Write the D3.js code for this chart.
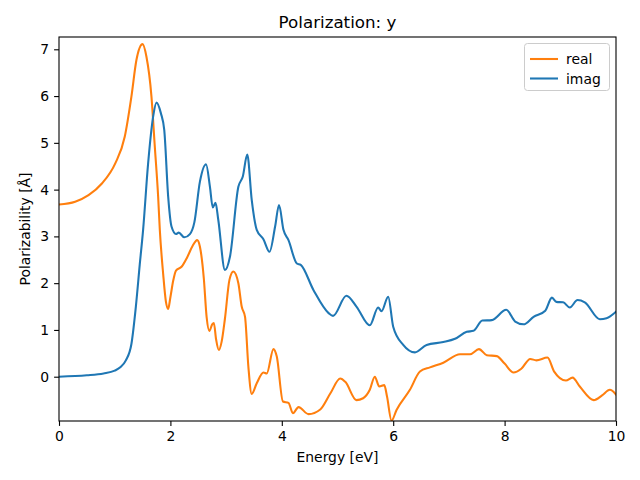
<!DOCTYPE html>
<html><head><meta charset="utf-8">
<script src="https://cdn.jsdelivr.net/npm/d3@7"></script>
<style>body{margin:0;background:#fff}svg{display:block}text{font-family:"DejaVu Sans",sans-serif;fill:#000}</style>
</head><body><svg id="c" width="640" height="480"></svg>
<script>
const title = "Polarization: y";
const xLabel = "Energy [eV]";
const yLabel = "Polarizability [Å]";
const seriesNames = ["real", "imag"];
const xTicks = [0, 2, 4, 6, 8, 10];
const yTicks = [0, 1, 2, 3, 4, 5, 6, 7];

const realE = [0,0.29,0.53,0.77,1.01,1.18,1.3,1.39,1.5,1.57,1.66,1.72,1.78,1.81,1.87,1.92,1.96,2.0,2.05,2.1,2.2,2.3,2.4,2.48,2.53,2.6,2.65,2.7,2.75,2.78,2.82,2.87,2.92,2.98,3.06,3.13,3.22,3.28,3.34,3.4,3.46,3.55,3.67,3.73,3.85,3.91,4.02,4.12,4.2,4.3,4.48,4.69,4.87,5.05,5.14,5.34,5.46,5.58,5.67,5.75,5.84,5.89,5.97,6.06,6.3,6.48,6.66,6.9,7.2,7.38,7.54,7.68,7.86,8.0,8.16,8.3,8.46,8.57,8.77,8.89,9.1,9.22,9.35,9.6,9.75,9.89,10];
const realV = [3.68,3.74,3.88,4.13,4.56,5.13,5.99,6.77,7.11,6.84,5.99,4.92,3.85,3.14,2.2,1.6,1.45,1.7,2.05,2.27,2.35,2.55,2.8,2.92,2.78,2.1,1.28,0.98,1.12,1.15,0.8,0.57,0.75,1.25,2.07,2.25,2.0,1.5,1.28,0.21,-0.37,-0.14,0.09,0.07,0.59,0.43,-0.53,-0.56,-0.78,-0.65,-0.8,-0.7,-0.36,-0.04,-0.11,-0.5,-0.46,-0.28,0.0,-0.21,-0.18,-0.43,-0.94,-0.71,-0.28,0.11,0.2,0.3,0.48,0.48,0.59,0.46,0.44,0.28,0.09,0.17,0.38,0.35,0.41,0.11,-0.08,-0.02,-0.21,-0.5,-0.4,-0.28,-0.38];

const imagE = [0,0.5,0.8,1.0,1.1,1.2,1.3,1.38,1.45,1.51,1.6,1.69,1.75,1.83,1.89,1.96,2.02,2.1,2.15,2.25,2.35,2.43,2.53,2.64,2.71,2.76,2.81,2.86,2.98,3.07,3.22,3.3,3.38,3.46,3.55,3.67,3.78,3.88,3.95,4.03,4.12,4.27,4.34,4.57,4.84,4.92,5.16,5.34,5.58,5.73,5.79,5.91,6.0,6.18,6.39,6.6,6.9,7.11,7.32,7.44,7.6,7.77,8.03,8.19,8.34,8.52,8.73,8.85,8.93,9.05,9.17,9.31,9.44,9.71,9.83,10];
const imagV = [0,0.03,0.07,0.13,0.2,0.35,0.7,1.5,2.4,3.14,4.56,5.56,5.86,5.63,5.27,3.85,3.21,3.05,3.08,2.98,3.05,3.3,4.17,4.54,4.06,3.62,3.72,3.35,2.28,2.57,4.06,4.28,4.75,3.78,3.14,2.94,2.67,3.21,3.67,3.14,2.92,2.42,2.39,1.85,1.36,1.3,1.73,1.5,1.1,1.48,1.4,1.71,1.07,0.68,0.52,0.68,0.74,0.81,0.96,0.98,1.2,1.21,1.43,1.18,1.12,1.28,1.41,1.69,1.6,1.59,1.48,1.64,1.59,1.23,1.25,1.39];

const colors = ["#ff7f0e", "#1f77b4"];
const L = 59, R = 616, T = 37, B = 421;
const svg = d3.select("#c");
const x = d3.scaleLinear().domain([0, 10]).range([L, R]);
const y = d3.scaleLinear().domain([-0.947, 7.263]).range([B, T]);

const line = d3.line().x(d => x(d[0])).y(d => y(d[1])).curve(d3.curveMonotoneX);
const clip = svg.append("clipPath").attr("id", "clp").append("rect").attr("x", L).attr("y", T).attr("width", R - L).attr("height", B - T);
const g = svg.append("g").attr("clip-path", "url(#clp)");
const data = [d3.zip(realE, realV), d3.zip(imagE, imagV)];
data.forEach((d, i) => {
  g.append("path").datum(d).attr("d", line).attr("fill", "none").attr("stroke", colors[i]).attr("stroke-width", 2.08).attr("stroke-linejoin", "round").attr("stroke-linecap", "square");
});

const xAxis = d3.axisBottom(x).tickValues(xTicks).tickSize(4.9).tickPadding(4.9).tickFormat(d3.format("d"));
const yAxis = d3.axisLeft(y).tickValues(yTicks).tickSize(4.9).tickPadding(4.9).tickFormat(d3.format("d"));
const gx = svg.append("g").attr("transform", `translate(0,${B})`).call(xAxis);
const gy = svg.append("g").attr("transform", `translate(${L},0)`).call(yAxis);
[gx, gy].forEach(a => {
  a.select(".domain").remove();
  a.selectAll("line").attr("stroke", "#000").attr("stroke-width", 1.1);
  a.selectAll("text").attr("font-size", 13.9).attr("font-family", "DejaVu Sans").attr("fill", "#000");
});
svg.append("rect").attr("x", L).attr("y", T).attr("width", R - L).attr("height", B - T).attr("fill", "none").attr("stroke", "#000").attr("stroke-width", 1.1);

svg.append("text").attr("x", (L + R) / 2).attr("y", 28).attr("text-anchor", "middle").attr("font-size", 16.7).text(title);
svg.append("text").attr("x", (L + R) / 2).attr("y", 462).attr("text-anchor", "middle").attr("font-size", 13.9).text(xLabel);
svg.append("text").attr("transform", `translate(30,${(T + B) / 2}) rotate(-90)`).attr("text-anchor", "middle").attr("font-size", 13.9).text(yLabel);

const lg = svg.append("g");
lg.append("rect").attr("x", 524.5).attr("y", 43.5).attr("width", 85).attr("height", 47).attr("rx", 3).attr("fill", "#fff").attr("fill-opacity", 0.8).attr("stroke", "#ccc").attr("stroke-width", 1);
seriesNames.forEach((n, i) => {
  const yy = 59 + i * 19.5;
  lg.append("line").attr("x1", 530).attr("x2", 558).attr("y1", yy).attr("y2", yy).attr("stroke", colors[i]).attr("stroke-width", 2.08);
  lg.append("text").attr("x", 566).attr("y", yy + 5).attr("font-size", 13.9).text(n);
});
</script></body></html>
